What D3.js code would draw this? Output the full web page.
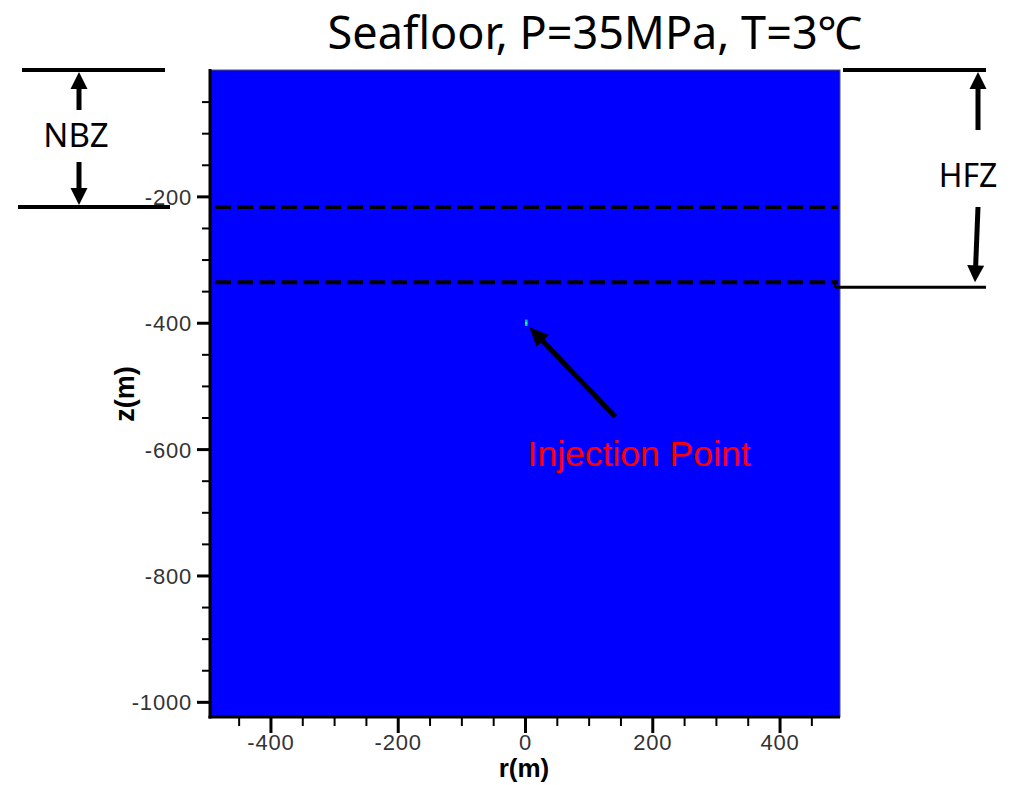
<!DOCTYPE html>
<html>
<head>
<meta charset="utf-8">
<script src="https://cdn.jsdelivr.net/npm/d3@7"></script>
<style>
  html, body { margin: 0; padding: 0; background: #fff; }
  svg { display: block; }
</style>
</head>
<body>
<svg id="chart" width="1012" height="785"></svg>
<script>
// ---- data ----
const titleText = "Seafloor, P=35MPa, T=3℃";
const xDomain = [-495, 495];          // r (m)
const yDomain = [0, -1024];           // z (m)
const xMajorTicks = [-400, -200, 0, 200, 400];
const xMinorTicks = [-450, -350, -300, -250, -150, -100, -50, 50, 100, 150, 250, 300, 350, 450];
const yMajorTicks = [-200, -400, -600, -800, -1000];
const yMinorTicks = [-50, -100, -150, -250, -300, -350, -450, -500, -550, -650, -700, -750, -850, -900, -950];
const dashedDepths = [-217, -336];    // zone boundaries
const nbzRange = [0, -217];
const hfzRange = [0, -344];
const injectionCells = [              // tiny plume at injection point
  { r0: 0, r1: 4, z0: -395, z1: -398, color: "#00c0ff" },
  { r0: 0, r1: 4, z0: -398, z1: -402, color: "#30ff60" },
  { r0: 0, r1: 4, z0: -402, z1: -405, color: "#00e0c0" }
];
const injArrow = { from: [142, -549], to: [7, -407] };
const injLabel = { text: "Injection Point", r: 4, z: -627 };

// ---- drawing ----
const svg = d3.select("#chart");
const x = d3.scaleLinear().domain(xDomain).range([210, 840]);
const y = d3.scaleLinear().domain(yDomain).range([70, 717]);
const fmt = d => String(d); // plain hyphen-minus like the reference

// background field
svg.append("rect")
  .attr("x", x(xDomain[0])).attr("y", y(yDomain[0]))
  .attr("width", x(xDomain[1]) - x(xDomain[0]))
  .attr("height", y(yDomain[1]) - y(yDomain[0]))
  .attr("fill", "#0000ff")
  .attr("stroke", "#555").attr("stroke-width", 1);

// injection cells
svg.selectAll("rect.cell").data(injectionCells).enter().append("rect")
  .attr("class", "cell")
  .attr("x", d => x(d.r0)).attr("width", d => x(d.r1) - x(d.r0))
  .attr("y", d => y(d.z0)).attr("height", d => y(d.z1) - y(d.z0))
  .attr("fill", d => d.color);

// dashed lines
svg.selectAll("line.dash").data(dashedDepths).enter().append("line")
  .attr("class", "dash")
  .attr("x1", x(xDomain[0]) + 5).attr("x2", x(xDomain[1]) - 2)
  .attr("y1", d => y(d)).attr("y2", d => y(d))
  .attr("stroke", "#000").attr("stroke-width", 4)
  .attr("stroke-dasharray", "16,6");

// axes frame (left & bottom thick)
svg.append("line").attr("x1", 210).attr("x2", 210).attr("y1", 69).attr("y2", 718.5)
  .attr("stroke", "#000").attr("stroke-width", 3);
svg.append("line").attr("x1", 208.5).attr("x2", 840).attr("y1", 717).attr("y2", 717)
  .attr("stroke", "#000").attr("stroke-width", 3);

// y axis
const gy = svg.append("g").attr("transform", "translate(210,0)")
  .call(d3.axisLeft(y).tickValues(yMajorTicks).tickSize(13).tickPadding(5).tickFormat(fmt));
gy.select(".domain").remove();
gy.selectAll(".tick line").attr("stroke", "#000").attr("stroke-width", 3);
gy.selectAll(".tick text").attr("font-family", "Liberation Sans, Arial, sans-serif")
  .attr("font-size", 22).attr("fill", "#333").attr("dy", "0.36em").attr("letter-spacing", 0.8);
const gyMinor = svg.append("g").attr("transform", "translate(210,0)")
  .call(d3.axisLeft(y).tickValues(yMinorTicks).tickSize(8).tickFormat(""));
gyMinor.select(".domain").remove();
gyMinor.selectAll(".tick line").attr("stroke", "#000").attr("stroke-width", 2);

// x axis
const gx = svg.append("g").attr("transform", "translate(0,717)")
  .call(d3.axisBottom(x).tickValues(xMajorTicks).tickSize(16).tickPadding(1).tickFormat(fmt));
gx.select(".domain").remove();
gx.selectAll(".tick line").attr("stroke", "#000").attr("stroke-width", 3);
gx.selectAll(".tick text").attr("font-family", "Liberation Sans, Arial, sans-serif")
  .attr("font-size", 22).attr("fill", "#333").attr("letter-spacing", 0.8);
const gxMinor = svg.append("g").attr("transform", "translate(0,717)")
  .call(d3.axisBottom(x).tickValues(xMinorTicks).tickSize(9).tickFormat(""));
gxMinor.select(".domain").remove();
gxMinor.selectAll(".tick line").attr("stroke", "#000").attr("stroke-width", 2);

// axis titles
svg.append("text").attr("x", 524).attr("y", 777).attr("text-anchor", "middle")
  .attr("font-family", "Liberation Sans, Arial, sans-serif").attr("font-weight", "bold")
  .attr("font-size", 26).attr("fill", "#000").text("r(m)");
svg.append("text").attr("transform", "translate(134,394) rotate(-90)").attr("text-anchor", "middle")
  .attr("font-family", "Liberation Sans, Arial, sans-serif").attr("font-weight", "bold")
  .attr("font-size", 27).attr("fill", "#000").text("z(m)");

// title
svg.append("text").attr("x", 595).attr("y", 49).attr("text-anchor", "middle")
  .attr("font-family", "Noto Sans, Open Sans, sans-serif")
  .attr("font-size", 45).attr("fill", "#000").text(titleText);

// arrow helper
function arrow(x1, y1, x2, y2, headLen, headW, sw) {
  const dx = x2 - x1, dy = y2 - y1, L = Math.hypot(dx, dy);
  const ux = dx / L, uy = dy / L;
  const bx = x2 - ux * headLen, by = y2 - uy * headLen;
  svg.append("line").attr("x1", x1).attr("y1", y1).attr("x2", bx + ux * 2).attr("y2", by + uy * 2)
    .attr("stroke", "#000").attr("stroke-width", sw);
  const px = -uy * headW / 2, py = ux * headW / 2;
  svg.append("path")
    .attr("d", `M${x2},${y2}L${bx + px},${by + py}L${bx - px},${by - py}Z`)
    .attr("fill", "#000");
}

// injection arrow & label
arrow(x(injArrow.from[0]), y(injArrow.from[1]), x(injArrow.to[0]), y(injArrow.to[1]), 19, 17, 5);
svg.append("text").attr("x", x(injLabel.r)).attr("y", y(injLabel.z))
  .attr("font-family", "Liberation Sans, Arial, sans-serif")
  .attr("font-size", 35.5).attr("fill", "#ff0000").text(injLabel.text);

// NBZ annotation
const nbzTop = y(nbzRange[0]), nbzBot = y(nbzRange[1]);
svg.append("line").attr("x1", 22).attr("x2", 165).attr("y1", nbzTop).attr("y2", nbzTop)
  .attr("stroke", "#000").attr("stroke-width", 4);
svg.append("line").attr("x1", 18).attr("x2", 170).attr("y1", nbzBot).attr("y2", nbzBot)
  .attr("stroke", "#000").attr("stroke-width", 4);
arrow(79, 110, 79, nbzTop + 2, 17, 17, 5);
arrow(79, 162, 79, nbzBot - 2, 17, 17, 5);
svg.append("text").attr("x", 76).attr("y", 147).attr("text-anchor", "middle")
  .attr("font-family", "Noto Sans, Open Sans, sans-serif")
  .attr("font-size", 33).attr("fill", "#000").text("NBZ");

// HFZ annotation
const hfzTop = y(hfzRange[0]), hfzBot = y(hfzRange[1]);
svg.append("line").attr("x1", 843).attr("x2", 986).attr("y1", hfzTop).attr("y2", hfzTop)
  .attr("stroke", "#000").attr("stroke-width", 4);
svg.append("line").attr("x1", 835).attr("x2", 986).attr("y1", hfzBot).attr("y2", hfzBot)
  .attr("stroke", "#000").attr("stroke-width", 3);
svg.append("line").attr("x1", 835).attr("x2", 835).attr("y1", y(dashedDepths[1]) - 2).attr("y2", hfzBot)
  .attr("stroke", "#000").attr("stroke-width", 2);
arrow(978, 130, 978, hfzTop + 2, 17, 17, 5);
arrow(978, 207, 975, hfzBot - 5, 17, 17, 5);
svg.append("text").attr("x", 968).attr("y", 187).attr("text-anchor", "middle")
  .attr("font-family", "Noto Sans, Open Sans, sans-serif")
  .attr("font-size", 32).attr("fill", "#000").text("HFZ");
</script>
</body>
</html>
